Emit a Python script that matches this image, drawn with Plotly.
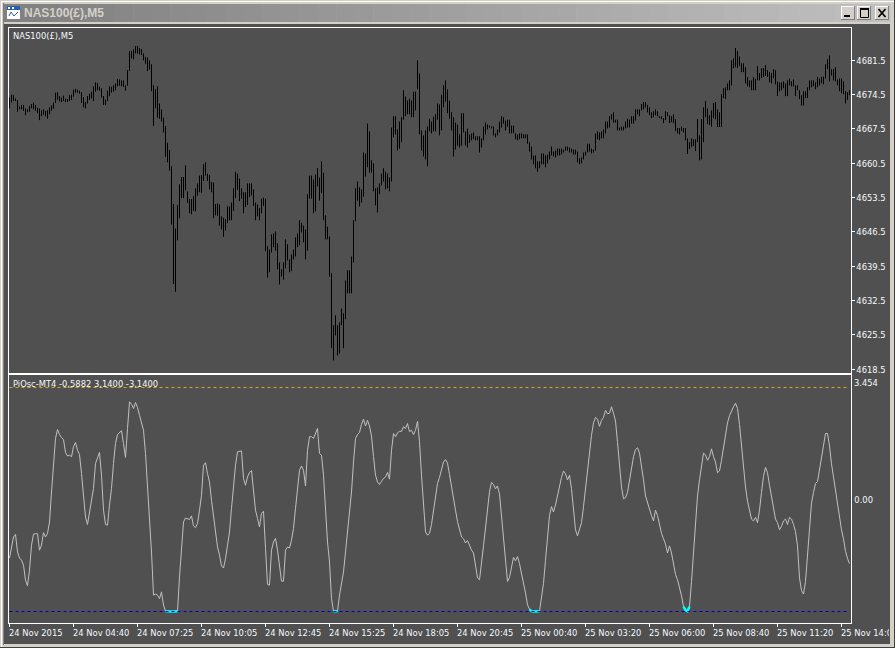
import plotly.graph_objects as go

TITLE = "NAS100(£),M5"
OSC_LABEL = "PiOsc-MT4 -0,5882 3,1400 -3,1400"
W, H = 895, 648

highs = [
4673.9,4674.5,4674.4,4673.7,4673.4,4672.1,4672.4,4672.4,4671.7,4671.5,4672.2,4672.6,4672.9,4672.4,4671.8,4671.7,4671.3,4671.5,4671.2,4671.3,
4671.9,4672.3,4672.9,4674.9,4675.0,4674.2,4673.9,4674.3,4673.7,4673.6,4674.4,4674.5,4675.5,4675.7,4675.5,4675.3,4675.0,4674.0,4673.0,4674.2,
4674.7,4675.1,4676.2,4677.0,4676.9,4676.1,4675.8,4674.2,4673.5,4675.3,4676.2,4676.1,4676.4,4676.8,4677.7,4677.6,4677.4,4677.4,4676.4,4679.5,
4683.4,4683.4,4683.7,4684.4,4684.4,4684.0,4683.8,4682.9,4682.2,4682.1,4681.5,4680.7,4676.4,4675.6,4676.2,4672.7,4671.5,4669.8,4668.1,4664.7,
4663.2,4659.9,4652.2,4647.2,4652.0,4656.2,4657.7,4657.7,4660.1,4654.8,4653.2,4653.2,4653.8,4655.4,4656.4,4658.0,4658.1,4660.3,4660.7,4658.4,
4658.1,4656.7,4656.6,4652.2,4652.3,
4652.1,4649.7,4649.4,4649.1,4651.7,4651.7,4652.5,4655.4,4658.8,4658.4,4657.4,4655.4,4654.6,4654.6,4656.4,4656.4,4656.4,4655.2,4652.5,4652.1,
4651.4,4653.3,4653.5,4653.3,4643.6,4642.9,4646.0,4646.2,4646.6,4644.2,4640.3,4638.9,4640.3,4645.0,4644.0,4640.9,4641.9,4642.9,4645.4,4646.2,
4648.9,4648.4,4647.8,4647.0,4654.2,4658.0,4658.0,4657.2,4658.2,4659.5,4657.6,4660.9,4658.6,4649.9,4647.6,4645.6,4638.1,4627.5,4629.5,4627.5,
4628.1,4630.9,4629.9,4636.6,4638.7,4638.7,4641.5,4648.9,4655.4,4656.8,4655.6,4655.2,4662.7,4662.5,4668.6,4667.0,4661.1,4660.5,4655.4,4655.6,
4656.4,4658.4,4659.5,4658.8,4658.4,4657.6,4667.8,4670.1,4670.1,4667.4,4669.0,4669.9,4675.4,4674.1,4673.3,4673.7,4673.3,4675.1,4675.1,4681.5,
4678.8,4667.2,4666.2,4667.2,4668.0,
4669.6,4669.0,4670.0,4670.5,4672.7,4672.5,4674.5,4676.4,4677.4,4675.6,4673.3,4670.9,4669.9,4668.8,4668.4,4666.4,4670.7,4670.7,4667.0,4667.6,
4666.4,4666.6,4666.8,4666.0,4666.0,4666.0,4665.6,4668.0,4668.8,4668.4,4668.2,4668.0,4668.0,4666.6,4667.4,4669.0,4670.1,4669.9,4669.2,4669.4,
4669.4,4668.2,4668.2,4666.6,4666.4,4666.6,4666.6,4666.4,4666.4,4666.4,4664.8,4663.9,4662.1,4662.1,4660.9,4660.9,4662.5,4662.5,4662.1,4662.3,
4662.9,4663.9,4662.9,4663.1,4663.5,4663.5,4663.5,4663.3,4663.9,4663.9,4663.7,4663.5,4663.3,4663.3,4662.9,4661.5,4661.7,4662.7,4662.9,4664.5,
4664.5,4663.5,4663.3,4666.6,4667.0,4666.8,4667.0,4667.4,4669.0,4669.0,4670.1,4670.5,4670.9,4669.4,4669.4,4667.8,4668.0,4668.0,4669.0,4669.6,
4669.4,4670.1,4670.1,4671.5,4671.5,
4671.5,4672.6,4673.0,4673.0,4672.4,4671.9,4670.9,4671.1,4671.5,4671.1,4670.1,4670.1,4669.7,4671.1,4670.9,4670.3,4670.1,4670.5,4669.5,4667.7,
4667.7,4668.0,4667.7,4667.7,4665.6,4664.8,4665.6,4665.4,4665.4,4669.5,4666.2,4669.5,4671.9,4673.2,4671.7,4670.3,4671.3,4672.8,4673.0,4671.5,
4670.9,4674.6,4675.8,4676.0,4676.8,4677.4,4681.5,4681.9,4684.0,4683.4,4682.3,4680.9,4680.9,4680.1,4678.1,4677.4,4677.4,4678.1,4677.7,4680.3,
4678.9,4679.9,4679.9,4680.5,4679.5,4679.1,4678.9,4679.7,4679.5,4677.2,4677.0,4677.0,4677.2,4676.8,4677.4,4677.8,4677.2,4677.6,4676.4,4676.4,
4675.4,4674.4,4675.2,4675.2,4676.0,4677.4,4677.4,4677.4,4677.0,4678.1,4677.8,4678.1,4678.2,4680.7,4681.7,4682.5,4679.7,4679.7,4680.1,4677.6,
4677.8,4677.8,4677.2,4675.2,4675.0,4675.4,
]
lows = [
4671.7,4672.9,4673.2,4673.2,4671.0,4671.5,4671.5,4671.2,4670.3,4670.9,4671.0,4671.7,4671.5,4671.2,4670.7,4669.3,4670.1,4670.4,4670.1,4669.6,
4670.5,4671.2,4671.6,4672.8,4673.5,4673.1,4673.0,4673.2,4673.0,4673.0,4673.2,4673.4,4674.1,4674.9,4674.9,4674.7,4672.8,4671.9,4671.7,4672.7,
4673.4,4673.7,4673.2,4675.1,4675.4,4675.3,4673.9,4672.4,4672.4,4673.2,4674.2,4674.9,4675.1,4675.4,4676.2,4676.3,4676.2,4676.1,4675.3,4676.3,
4679.3,4681.9,4681.7,4682.9,4682.9,4682.7,4682.6,4681.5,4680.8,4679.3,4679.6,4675.2,4668.1,4671.7,4669.8,4669.6,4669.0,4666.8,4661.8,4660.7,
4659.0,4648.0,4635.9,4634.3,4644.8,4649.3,4653.4,4653.4,4655.0,4652.4,4650.3,4650.1,4650.8,4650.7,4653.9,4654.6,4654.5,4656.9,4658.0,4656.9,
4655.2,4654.6,4649.3,4649.9,4649.8,
4647.8,4647.0,4645.5,4646.8,4648.3,4648.9,4648.9,4650.8,4653.4,4655.1,4652.8,4653.3,4650.3,4651.6,4652.0,4653.6,4653.9,4651.8,4648.9,4649.7,
4648.9,4650.3,4651.8,4642.6,4637.2,4638.3,4642.3,4643.4,4642.7,4638.9,4635.8,4637.4,4636.8,4639.1,4640.7,4638.3,4638.5,4640.9,4641.5,4643.4,
4643.8,4646.4,4644.4,4640.9,4642.7,4653.3,4653.3,4650.3,4650.7,4655.8,4652.9,4654.4,4648.9,4645.0,4645.0,4637.4,4622.8,4620.3,4625.4,4621.3,
4621.7,4627.5,4622.8,4628.7,4634.0,4634.0,4634.0,4640.3,4648.7,4652.9,4651.7,4652.5,4653.7,4657.8,4659.7,4658.6,4658.6,4654.8,4651.9,4650.5,
4654.2,4656.0,4656.8,4655.2,4655.4,4654.8,4656.8,4665.8,4666.4,4663.1,4663.5,4664.8,4669.4,4670.1,4670.5,4670.5,4669.9,4669.9,4671.3,4675.6,
4666.4,4663.1,4661.9,4661.3,4659.9,
4667.0,4666.6,4667.0,4667.0,4669.4,4666.2,4667.2,4671.9,4673.1,4670.7,4669.6,4667.2,4661.9,4663.3,4664.1,4663.7,4664.1,4666.8,4664.1,4663.7,
4664.7,4665.2,4665.4,4665.2,4665.2,4662.7,4663.7,4665.2,4666.4,4667.4,4667.8,4667.6,4666.2,4665.8,4666.2,4666.8,4667.8,4668.6,4667.2,4668.0,
4666.6,4666.6,4666.6,4665.4,4665.2,4665.4,4665.6,4665.6,4665.6,4664.5,4662.9,4661.3,4660.3,4659.5,4658.8,4659.5,4660.3,4660.3,4659.7,4660.5,
4661.3,4662.1,4661.9,4661.7,4662.1,4662.1,4662.3,4662.7,4663.1,4663.1,4662.7,4662.7,4662.3,4662.3,4660.7,4660.3,4660.5,4661.3,4662.1,4662.7,
4662.9,4662.5,4662.7,4663.1,4665.4,4665.2,4665.6,4665.6,4666.6,4667.6,4667.8,4669.4,4668.8,4668.8,4667.2,4667.2,4667.2,4667.2,4667.6,4667.8,
4667.8,4668.6,4668.6,4669.2,4670.5,
4670.1,4671.3,4671.5,4671.9,4670.9,4670.3,4669.7,4669.9,4670.3,4670.1,4669.7,4669.5,4668.7,4669.3,4670.1,4668.7,4668.9,4668.7,4667.1,4666.6,
4666.4,4667.1,4666.8,4665.2,4662.4,4663.4,4663.8,4664.0,4663.0,4664.8,4661.1,4661.3,4664.8,4669.9,4668.5,4668.3,4668.0,4669.7,4669.5,4667.9,
4667.9,4667.9,4673.8,4673.6,4675.4,4675.4,4676.4,4679.9,4680.1,4679.9,4680.3,4679.1,4679.1,4676.8,4676.2,4676.0,4675.4,4675.4,4675.4,4677.4,
4677.4,4677.9,4678.1,4678.3,4678.1,4677.0,4676.8,4677.9,4676.6,4674.2,4675.2,4675.4,4675.8,4674.2,4674.2,4676.4,4676.2,4676.2,4674.2,4675.4,
4673.6,4672.3,4672.3,4673.8,4673.8,4675.4,4676.0,4676.2,4675.6,4676.0,4676.4,4676.8,4676.6,4677.8,4679.7,4677.2,4678.4,4677.4,4677.2,4676.4,
4675.2,4674.8,4674.6,4672.7,4673.4,4674.4,
]
osc = [
-1.64,-1.28,-1.05,-0.98,-1.47,-1.64,-1.70,-1.84,-2.26,-2.42,-1.98,-1.28,-0.97,-0.96,-0.96,-1.42,-1.28,-0.93,-1.05,-0.95,
-0.63,0.21,1.01,1.71,1.96,1.82,1.74,1.68,1.32,1.22,1.24,1.20,1.48,1.60,1.38,1.26,0.73,0.12,-0.49,-0.70,
-0.35,-0.02,0.31,1.01,1.20,1.32,0.68,-0.30,-0.70,-0.72,-0.16,0.31,1.01,1.57,1.82,1.88,1.93,1.57,1.18,1.99,
2.74,2.67,2.55,2.72,2.58,2.36,2.18,1.94,1.29,0.40,-0.35,-1.47,-2.68,-2.65,-2.68,-2.78,-2.59,-2.96,-3.13,-3.14,
-3.14,-3.14,-3.14,-3.14,-3.13,-2.17,-1.37,-0.63,-0.52,-0.55,-0.56,-0.46,-0.74,-0.79,-0.67,-0.30,0.12,0.96,1.03,0.73,
0.49,-0.02,-0.49,-1.00,-1.33,-1.56,-1.86,-1.92,-1.66,-1.28,-0.91,-0.25,0.45,0.96,1.34,1.36,1.36,0.59,0.40,0.63,
0.76,0.81,0.26,-0.30,-0.53,-0.77,-0.39,-0.33,-1.37,-2.38,-2.40,-1.42,-1.19,-1.09,-1.42,-1.84,-2.29,-2.29,-1.42,-1.33,
-1.36,-1.14,-0.81,-0.25,0.40,0.82,0.94,0.82,0.38,1.38,1.76,1.76,1.71,1.85,1.99,1.29,1.24,0.68,-0.44,-1.19,
-1.75,-2.78,-3.13,-3.13,-3.13,-2.68,-2.40,-2.03,-1.47,-0.86,-0.35,0.21,1.05,1.71,1.82,1.88,2.11,2.25,2.06,2.22,
2.06,1.78,1.20,0.68,0.49,0.42,0.51,0.59,0.63,0.76,0.57,1.38,1.85,1.76,1.87,1.91,1.91,2.04,1.99,2.13,
1.90,1.94,1.82,1.94,2.19,1.62,0.68,-0.25,-0.91,-1.00,
-0.95,-0.70,-0.35,0.05,0.45,0.62,0.85,1.05,1.12,1.02,
0.70,0.40,0.05,-0.30,-0.62,-0.85,-1.05,-1.10,-1.22,-1.15,-1.30,-1.42,-1.50,-1.82,-2.20,
-2.25,-1.85,-1.30,-0.80,-0.30,0.22,0.48,
0.42,0.30,0.38,0.15,-0.45,-1.10,-1.75,-2.30,
-2.18,-1.85,-1.62,-1.72,-1.60,-1.80,-2.05,-2.30,-2.62,-2.95,
-3.08,-3.13,-3.14,-3.14,-3.14,-3.13,
-2.80,-2.35,-1.70,-1.00,-0.45,-0.20,-0.35,-0.15,0.12,0.35,
0.62,0.80,0.72,0.55,0.68,0.30,-0.35,-0.85,-1.02,
-0.85,-0.65,-0.20,0.30,0.85,1.35,1.80,2.15,2.30,2.25,
2.05,2.22,2.30,2.50,2.40,2.42,2.60,2.42,2.20,
1.60,0.90,0.35,0.02,0.05,0.20,0.55,0.95,
1.20,1.40,1.45,1.30,0.95,0.55,0.10,
-0.10,-0.25,-0.45,-0.60,-0.30,-0.45,-0.70,
-0.95,-1.10,-1.25,-1.50,-1.30,-1.50,-1.85,-2.10,-2.25,-2.45,-2.70,
-3.00,-3.10,-3.13,-3.00,
-2.30,-1.40,-0.60,0.10,0.55,0.90,1.30,1.25,
1.10,1.20,1.42,1.20,1.05,0.75,0.80,1.10,
1.50,1.90,2.15,2.35,2.50,2.60,2.70,2.55,2.10,
1.50,0.90,0.35,-0.05,-0.30,-0.55,-0.60,-0.50,-0.65,
-0.30,0.20,0.65,0.90,0.75,0.40,
0.05,-0.25,-0.55,-0.65,-0.85,-0.75,
-0.60,-0.55,-0.70,-0.50,-0.55,
-0.70,-0.90,-1.30,-2.20,-2.55,-2.65,-2.30,
-1.60,-0.75,-0.10,0.20,0.45,0.50,
0.85,1.25,1.55,1.85,1.85,1.50,
1.00,0.60,0.25,-0.15,-0.55,-0.85,-1.10,-1.45,-1.65,-1.80,
]
price_ticks = [4681.5,4674.5,4667.5,4660.5,4653.5,4646.5,4639.5,4632.5,4625.5,4618.5]
osc_scale = [3.454, 0.0, -3.454]
levels = [3.14, -3.14]
time_labels = ["24 Nov 2015","24 Nov 04:40","24 Nov 07:25","24 Nov 10:05","24 Nov 12:45","24 Nov 15:25","24 Nov 18:05",
               "24 Nov 20:45","25 Nov 00:40","25 Nov 03:20","25 Nov 06:00","25 Nov 08:40","25 Nov 11:20","25 Nov 14:00"]
time_bars = [0,32,64,96,128,160,192,224,256,288,320,352,384,416]

FONT = "DejaVu Sans Condensed"
TITLE_FONT = "Liberation Sans"
TXT = "#f4f8fc"
DARK = "#505050"
FRAME = "#d4d0c8"
TS = 9.3

n = min(len(highs), len(lows))
bar_x, bar_y = [], []
for i in range(n):
    bar_x += [i, i, None]
    bar_y += [highs[i], lows[i], None]
fig = go.Figure()
fig.add_trace(go.Scatter(x=bar_x, y=bar_y, mode="lines", line=dict(color="#000000", width=1),
                         xaxis="x", yaxis="y", showlegend=False))
osc_x = list(range(len(osc)))
fig.add_trace(go.Scatter(x=osc_x, y=osc, mode="lines", line=dict(color="#c0c0c0", width=1),
                         xaxis="x2", yaxis="y2", showlegend=False))
fig.add_trace(go.Scatter(x=osc_x, y=[v if v <= levels[1]+0.15 else None for v in osc], mode="lines",
                         line=dict(color="#00ffff", width=2.5), xaxis="x2", yaxis="y2", showlegend=False))
for lv, col in zip(levels, ["#daa520", "#0000cd"]):
    fig.add_trace(go.Scatter(x=[0, 418.5], y=[lv, lv], mode="lines", line=dict(color=col, width=1, dash="3px,3px"),
                             xaxis="x2", yaxis="y2", showlegend=False))

def fx(p): return p / W
def fy(p): return 1 - p / H
def rect(x0, y0, x1, y1, fill, line=None):
    return dict(type="rect", xref="paper", yref="paper", x0=fx(x0), x1=fx(x1), y0=fy(y0), y1=fy(y1),
                fillcolor=fill, line=dict(width=1 if line else 0, color=line or fill), layer="below")
def seg(x0, y0, x1, y1, col="#000000", w=1):
    return dict(type="line", xref="paper", yref="paper", x0=fx(x0), x1=fx(x1), y0=fy(y0), y1=fy(y1),
                line=dict(color=col, width=w), layer="below")

shapes = [rect(0, 0, W, H, FRAME), rect(1, 1, W, 2, "#ffffff"), rect(1, 1, 2, H, "#ffffff"),
          rect(W-1, 0, W, H, "#404040"), rect(0, H-1, W, H, "#404040"),
          rect(3, 3, 4, 645, "#808080"), rect(4, 24, 890, 644, DARK)]
steps = 48
x_a, x_b = 4, 890
for i in range(steps):
    t = i / (steps - 1)
    g = int(128 + (192 - 128) * t)
    shapes.append(rect(x_a + (x_b-x_a)*i/steps, 4, x_a + (x_b-x_a)*(i+1)/steps + 0.5, 22, f"rgb({g},{g},{g})"))
shapes += [rect(7, 6, 20, 19, "#ffffff"), rect(7, 6, 20, 10, "#2a5fb0"), rect(8, 7, 10, 9, "#ffffff"), rect(12, 7, 14, 9, "#ffffff"),
           seg(9, 16, 11, 12, "#2a5fb0"), seg(11, 12, 14, 16, "#2a5fb0"), seg(14, 16, 18, 12, "#2a5fb0")]
for bx0, bx1 in [(841, 855), (857, 871), (875, 889)]:
    shapes += [rect(bx0, 6, bx1, 20, "#808080"), rect(bx0, 6, bx1-1, 19, "#ffffff"), rect(bx0+1, 7, bx1-1, 19, FRAME)]
shapes += [rect(844, 15, 850, 17, "#000000"),
           dict(type="rect", xref="paper", yref="paper", x0=fx(860.5), x1=fx(868.5), y0=fy(8.5), y1=fy(17.5),
                line=dict(color="#000000", width=1), fillcolor="rgba(0,0,0,0)", layer="below"),
           rect(860, 8, 869, 10, "#000000"),
           seg(878.5, 9, 885.5, 17, w=1.6), seg(885.5, 9, 878.5, 17, w=1.6)]

annos = [
    dict(text=TITLE, x=fx(23), y=fy(13), xref="paper", yref="paper", xanchor="left", yanchor="middle", showarrow=False,
         borderpad=0, font=dict(family=TITLE_FONT, size=12, color="#d4d0c8", weight="bold")),
    dict(text=TITLE, x=fx(12), y=fy(35), xref="paper", yref="paper", xanchor="left", yanchor="middle", showarrow=False,
         borderpad=0, font=dict(family=FONT, size=TS, color=TXT)),
    dict(text=OSC_LABEL, x=fx(12), y=fy(383.5), xref="paper", yref="paper", xanchor="left", yanchor="middle", showarrow=False,
         borderpad=0, font=dict(family=FONT, size=TS, color=TXT)),
    dict(text=f"{osc_scale[0]:.3f}", x=fx(853), y=osc_scale[0], xref="paper", yref="y2", xanchor="left", yanchor="top", showarrow=False,
         borderpad=0, font=dict(family=FONT, size=TS, color=TXT)),
    dict(text=f"{osc_scale[2]:.3f}", x=fx(853), y=osc_scale[2], xref="paper", yref="y2", xanchor="left", yanchor="bottom", showarrow=False,
         borderpad=0, font=dict(family=FONT, size=TS, color=TXT)),
]
for lab, b in zip(time_labels, time_bars):
    a = dict(text=lab, x=b, y=fy(632.5), xref="x2", yref="paper", xanchor="left", yanchor="middle", xshift=-1.5, showarrow=False,
             borderpad=0, align="left", font=dict(family=FONT, size=TS, color=TXT))
    if lab is time_labels[-1]:
        a["width"] = 48
    annos.append(a)

x_range = [-0.5, 420.5]
common_x = dict(range=x_range, fixedrange=True, showgrid=False, zeroline=False, showline=True, linecolor="#ffffff",
                linewidth=1, mirror=True, domain=[fx(8.5), fx(850.5)])
common_y = dict(fixedrange=True, showgrid=False, zeroline=False, showline=True, linecolor="#ffffff",
                linewidth=1, mirror=True, side="right", tickmode="array")
fig.update_layout(
    width=W, height=H, autosize=False, margin=dict(l=0, r=0, t=0, b=0, pad=0, autoexpand=False),
    paper_bgcolor=FRAME, plot_bgcolor=DARK, hovermode=False, showlegend=False,
    xaxis=dict(anchor="y", showticklabels=False, ticks="", **common_x),
    xaxis2=dict(anchor="y2", showticklabels=False, ticks="outside", ticklen=3, tickcolor="#ffffff", tickwidth=1,
                tickmode="array", tickvals=time_bars, **common_x),
    yaxis=dict(anchor="x", domain=[fy(372.5), fy(27.5)], range=[4617.85, 4688.19], tickvals=price_ticks,
               ticktext=[f"{v:.1f}" for v in price_ticks], ticks="outside", ticklen=3, tickcolor="#ffffff", tickwidth=1,
               tickfont=dict(family=FONT, size=TS, color=TXT), **common_y),
    yaxis2=dict(anchor="x2", domain=[fy(622.5), fy(374.5)], range=[-3.448, 3.504], tickvals=[osc_scale[1]], ticktext=["0.00"],
                ticks="outside", ticklen=1, tickcolor="rgba(0,0,0,0)", tickfont=dict(family=FONT, size=TS, color=TXT), **common_y),
    shapes=shapes, annotations=annos,
)
fig.write_html("out.html", config=dict(displayModeBar=False, responsive=False),
               post_script="document.body.style.margin='0';document.body.style.overflow='hidden';")
